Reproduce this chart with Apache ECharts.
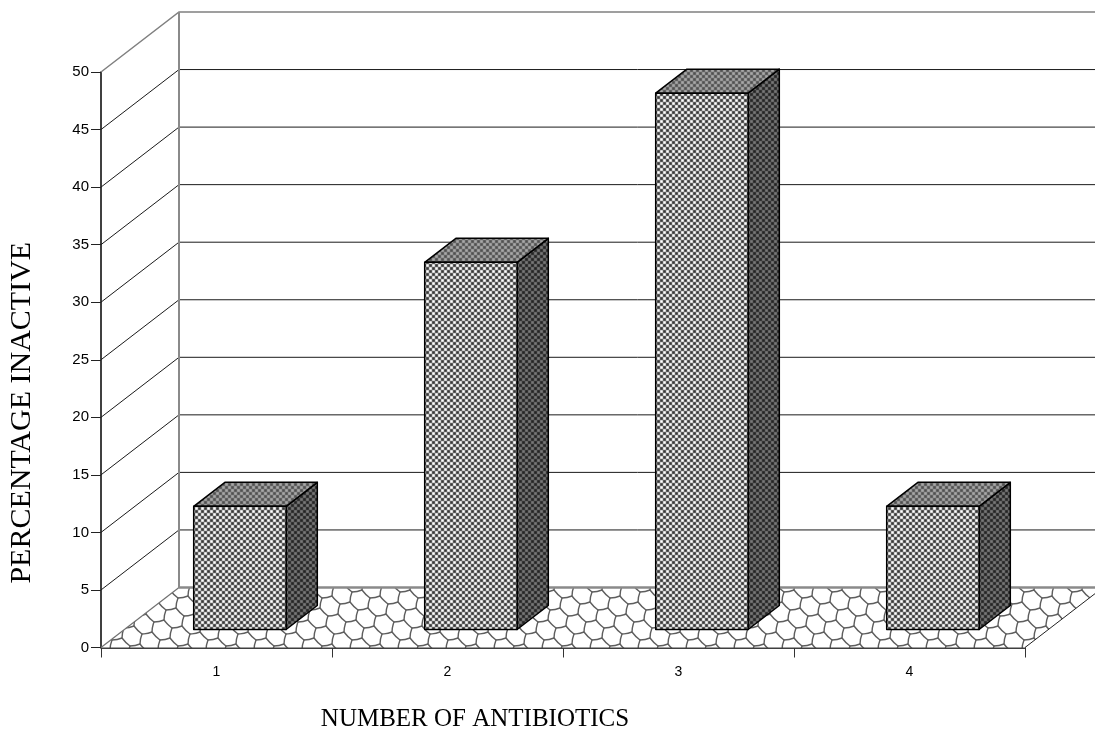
<!DOCTYPE html>
<html>
<head>
<meta charset="utf-8">
<style>
  html, body { margin: 0; padding: 0; background: #fff; }
  #chart { width: 1095px; height: 732px; }
</style>
<script src="https://cdn.jsdelivr.net/npm/echarts@6/dist/echarts.min.js"></script>
</head>
<body>
<div id="chart"></div>
<script>
const categories = ['1', '2', '3', '4'];
const inactive = [10.7, 31.9, 46.6, 10.7];
const wallTicks = [5, 10, 15, 20, 25, 30, 35, 40, 45, 50];

// depth of the fake 3d box, in pixels
const DEPTH_X = 78;
const DEPTH_Y = 60;

function checker(light, dark, mid) {
  const c = document.createElement('canvas');
  const cell = 3;
  c.width = cell * 4;
  c.height = cell * 4;
  const ctx = c.getContext('2d');
  ctx.fillStyle = mid;
  ctx.fillRect(0, 0, c.width, c.height);
  // squares a little smaller than the cell so the edges stay soft
  for (let i = 0; i < 4; i++) {
    for (let j = 0; j < 4; j++) {
      ctx.fillStyle = (i + j) % 2 === 0 ? light : dark;
      ctx.fillRect(i * cell + 0.3, j * cell + 0.3, cell - 0.6, cell - 0.6);
    }
  }
  return { image: c, repeat: 'repeat' };
}

// roof tile pattern of the floor: skewed hex cells with slightly bulged edges
function shingle() {
  const c = document.createElement('canvas');
  c.width = 48;
  c.height = 48;
  const ctx = c.getContext('2d');
  ctx.fillStyle = '#fff';
  ctx.fillRect(0, 0, 48, 48);
  ctx.strokeStyle = '#5e5e5e';
  ctx.lineWidth = 1.4;
  ctx.lineJoin = 'round';
  ctx.lineCap = 'round';
  const hex = [[8, 8], [-2, 10], [-10, 2], [-8, -8]];
  for (let m = -6; m < 10; m++) {
    for (let n = -6; n < 10; n++) {
      const px = m * 18 - n * 12;
      const py = m * 6 + n * 12;
      ctx.beginPath();
      ctx.moveTo(px + hex[0][0], py + hex[0][1]);
      for (let k = 1; k < hex.length; k++) {
        const mx = (hex[k - 1][0] + hex[k][0]) / 2;
        const my = (hex[k - 1][1] + hex[k][1]) / 2;
        ctx.quadraticCurveTo(px + mx * 1.1, py + my * 1.1, px + hex[k][0], py + hex[k][1]);
      }
      ctx.stroke();
    }
  }
  return { image: c, repeat: 'repeat' };
}

const frontFill = checker('#ffffff', '#383838', '#8e8e8e');
const topFill = checker('#a8a8a8', '#505050', '#7c7c7c');
const sideFill = checker('#787878', '#242424', '#4e4e4e');
const floorFill = shingle();

function renderFloor(params, api) {
  const band = api.size([1, 0])[0];
  const a = api.coord([0, 0]);
  const b = api.coord([categories.length - 1, 0]);
  const left = a[0] - band / 2;
  const right = b[0] + band / 2;
  const y = a[1];
  return {
    type: 'group',
    children: [
      {
        type: 'polygon',
        shape: { points: [[left, y], [left + DEPTH_X, y - DEPTH_Y], [right + DEPTH_X, y - DEPTH_Y], [right, y]] },
        style: { fill: floorFill, stroke: null },
      },
      {
        type: 'line',
        shape: { x1: left + DEPTH_X, y1: y - DEPTH_Y, x2: right + DEPTH_X, y2: y - DEPTH_Y },
        style: { stroke: '#8a8a8a', lineWidth: 2.5 },
      },
      {
        type: 'line',
        shape: { x1: left, y1: y, x2: left + DEPTH_X, y2: y - DEPTH_Y },
        style: { stroke: '#707070', lineWidth: 1.2 },
      },
      {
        type: 'line',
        shape: { x1: right, y1: y, x2: right + DEPTH_X, y2: y - DEPTH_Y },
        style: { stroke: '#222', lineWidth: 1 },
      },
    ],
  };
}

function renderWall(params, api) {
  const band = api.size([1, 0])[0];
  const a = api.coord([0, api.value(1)]);
  const b = api.coord([categories.length - 1, api.value(1)]);
  const left = a[0] - band / 2;
  const right = b[0] + band / 2;
  const y = a[1];
  const isTop = params.dataIndex === wallTicks.length - 1;
  const children = [
    {
      type: 'polyline',
      shape: { points: [[left, y], [left + DEPTH_X, y - DEPTH_Y], [right + DEPTH_X, y - DEPTH_Y]] },
      style: { fill: null, stroke: isTop ? '#808080' : '#1a1a1a', lineWidth: isTop ? 1.5 : 1 },
    },
  ];
  if (isTop) {
    const base = api.coord([0, 0])[1];
    children.push({
      type: 'line',
      shape: { x1: left + DEPTH_X, y1: y - DEPTH_Y, x2: left + DEPTH_X, y2: base - DEPTH_Y },
      style: { stroke: '#8a8a8a', lineWidth: 2 },
    });
  }
  return { type: 'group', children };
}

function renderBar(params, api) {
  const i = api.value(0);
  const topPt = api.coord([i, api.value(1)]);
  const basePt = api.coord([i, 0]);
  const band = api.size([1, 0])[0];
  // the bar stands inside the floor: 0.3 depth in front, 0.4 deep, 0.4 of band wide
  const w = band * 0.4;
  const dx = DEPTH_X * 0.3;
  const dy = DEPTH_Y * 0.3;
  const ddx = DEPTH_X * 0.4;
  const ddy = DEPTH_Y * 0.4;
  const x0 = topPt[0] - w / 2 + dx;
  const x1 = x0 + w;
  const yTop = topPt[1] - dy;
  const yBase = basePt[1] - dy;
  const line = { stroke: '#000', lineWidth: 1.5, lineJoin: 'round' };
  return {
    type: 'group',
    children: [
      {
        type: 'polygon',
        shape: { points: [[x1, yTop], [x1 + ddx, yTop - ddy], [x1 + ddx, yBase - ddy], [x1, yBase]] },
        style: Object.assign({ fill: sideFill }, line),
      },
      {
        type: 'polygon',
        shape: { points: [[x0, yTop], [x0 + ddx, yTop - ddy], [x1 + ddx, yTop - ddy], [x1, yTop]] },
        style: Object.assign({ fill: topFill }, line),
      },
      {
        type: 'polygon',
        shape: { points: [[x0, yTop], [x1, yTop], [x1, yBase], [x0, yBase]] },
        style: Object.assign({ fill: frontFill }, line),
      },
    ],
  };
}

const chart = echarts.init(document.getElementById('chart'));
chart.setOption({
  animation: false,
  backgroundColor: '#fff',
  textStyle: { fontFamily: '"Liberation Sans", Arial, sans-serif' },
  grid: { left: 101, top: 72, width: 924, height: 575.5, outerBoundsMode: 'none' },
  xAxis: {
    type: 'category',
    data: categories,
    boundaryGap: true,
    name: 'NUMBER OF ANTIBIOTICS',
    nameLocation: 'middle',
    nameGap: 59,
    nameTextStyle: {
      fontFamily: '"Liberation Serif", "Times New Roman", serif',
      fontSize: 25,
      color: '#000',
      padding: [0, 176, 0, 0],
    },
    axisLine: { lineStyle: { color: '#000', width: 1.5 } },
    axisTick: { show: true, length: 10, alignWithLabel: false, lineStyle: { color: '#333', width: 1 } },
    axisLabel: { color: '#000', fontSize: 14, margin: 18 },
    splitLine: { show: false },
  },
  yAxis: {
    type: 'value',
    min: 0,
    max: 50,
    interval: 5,
    name: 'PERCENTAGE INACTIVE',
    nameLocation: 'middle',
    nameGap: 64,
    nameTextStyle: {
      fontFamily: '"Liberation Serif", "Times New Roman", serif',
      fontSize: 30,
      color: '#000',
      padding: [0, 106, 0, 0],
    },
    axisLine: { show: true, lineStyle: { color: '#000', width: 1.5 } },
    axisTick: { show: true, length: 10, lineStyle: { color: '#222', width: 1 } },
    axisLabel: { color: '#000', fontSize: 15, margin: 12, padding: [3, 0, 0, 0] },
    splitLine: { show: false },
  },
  series: [
    {
      type: 'custom',
      coordinateSystem: 'cartesian2d',
      silent: true,
      z: 1,
      renderItem: renderWall,
      encode: { x: 0, y: 1 },
      data: wallTicks.map((t) => [0, t]),
    },
    {
      type: 'custom',
      coordinateSystem: 'cartesian2d',
      silent: true,
      z: 2,
      renderItem: renderFloor,
      encode: { x: 0, y: 1 },
      data: [[0, 0]],
    },
    {
      type: 'custom',
      coordinateSystem: 'cartesian2d',
      silent: true,
      z: 3,
      renderItem: renderBar,
      encode: { x: 0, y: 1 },
      data: inactive.map((v, i) => [i, v]),
    },
  ],
});
</script>
</body>
</html>
